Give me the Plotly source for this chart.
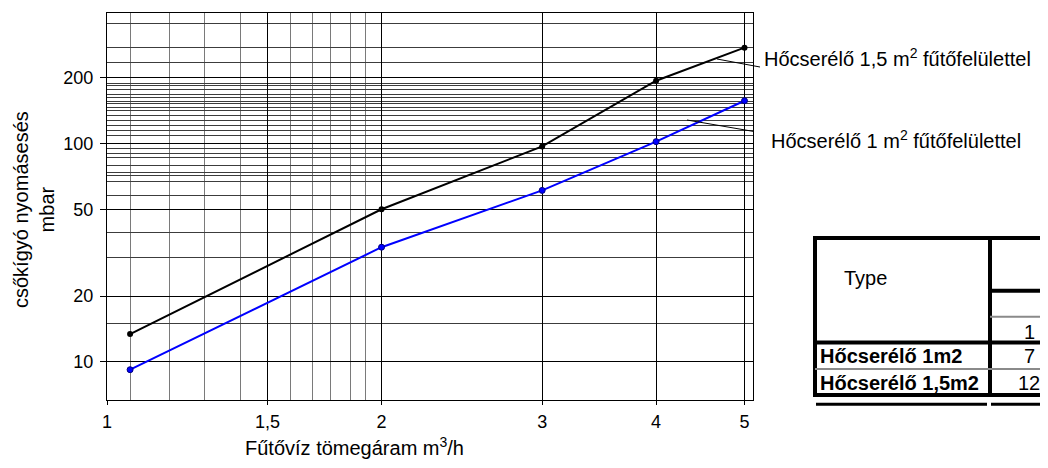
import plotly.graph_objects as go

# ---- data ----
flow_15 = [1.06, 2, 3, 4, 5]
dp_15 = [13.4, 50, 97, 194, 275]
flow_10 = [1.06, 2, 3, 4, 5]
dp_10 = [9.2, 33.5, 61, 102, 157]

x_tick_vals = [1, 1.5, 2, 3, 4, 5]
x_tick_text = ["1", "1,5", "2", "3", "4", "5"]
x_minor_grid = [1.06, 1.17, 1.28, 1.40, 1.59, 1.68, 1.76, 1.85, 1.92]
y_tick_vals = [10, 20, 50, 100, 200]
y_tick_text = ["10", "20", "50", "100", "200"]
y_minor_grid = [15, 30, 39, 58, 67, 71, 74, 79, 86, 90, 95, 109, 115, 121, 128,
                134, 141, 146, 152, 156, 162, 167, 177, 184, 189, 234, 275, 355]

label_15 = "Hőcserélő 1,5 m<sup>2</sup> fűtőfelülettel"
label_10 = "Hőcserélő 1 m<sup>2</sup> fűtőfelülettel"
x_title = "Fűtővíz tömegáram m<sup>3</sup>/h"
y_title = "csőkígyó nyomásesés<br>mbar"

table_header = "Type"
table_col = "1"
table_rows = ["Hőcserélő 1m2", "Hőcserélő 1,5m2"]
table_vals = ["7", "12"]

# ---- layout geometry (page pixels; the page adds an 8 px body margin) ----
OFF = 8
W, H = 1048 - 2 * OFF, 468 - 2 * OFF
L, R, T, B = 107, 753, 13, 400
FONT = "Liberation Sans, Arial, sans-serif"


def px(x):
    return (x - L) / (R - L)


def py(y):
    return (B - y) / (B - T)


fig = go.Figure()
fig.add_trace(go.Scatter(x=flow_15, y=dp_15, mode="lines+markers",
                         line=dict(color="black", width=2),
                         marker=dict(color="black", size=6),
                         name=label_15, showlegend=False))
fig.add_trace(go.Scatter(x=flow_10, y=dp_10, mode="lines+markers",
                         line=dict(color="#0000ff", width=2),
                         marker=dict(color="#0000ff", size=6,
                                     line=dict(color="#000080", width=1)),
                         name=label_10, showlegend=False))

fig.update_layout(
    width=W, height=H,
    margin=dict(l=L - OFF, r=W - (R - OFF), t=T - OFF, b=H - (B - OFF)),
    paper_bgcolor="white", plot_bgcolor="white",
    font=dict(family=FONT, color="black", size=18),
    xaxis=dict(type="log", range=[0, 0.7083],
               tickmode="array", tickvals=x_tick_vals, ticktext=x_tick_text,
               ticks="outside", ticklen=4, tickcolor="black",
               tickfont=dict(size=18), ticklabelstandoff=1,
               showgrid=True, gridcolor="black", gridwidth=1,
               showline=True, mirror=True, linecolor="black", linewidth=1,
               zeroline=False,
               minor=dict(tickmode="array", tickvals=x_minor_grid,
                          showgrid=True, gridcolor="#7a7a7a", gridwidth=1,
                          ticks="")),
    yaxis=dict(type="log", range=[0.825, 2.598],
               tickmode="array", tickvals=y_tick_vals, ticktext=y_tick_text,
               ticks="outside", ticklen=6, tickcolor="black",
               tickfont=dict(size=18), ticklabelstandoff=3,
               showgrid=True, gridcolor="black", gridwidth=1,
               showline=True, mirror=True, linecolor="black", linewidth=1,
               zeroline=False,
               minor=dict(tickmode="array", tickvals=y_minor_grid,
                          showgrid=True, gridcolor="#3c3c3c", gridwidth=1,
                          ticks="")),
)

ann = []
# axis titles
ann.append(dict(text=x_title, x=px(354), y=py(446), xref="paper", yref="paper",
                showarrow=False, xanchor="center", yanchor="middle",
                font=dict(size=20)))
ann.append(dict(text=y_title, x=px(34), y=py(210), xref="paper", yref="paper",
                showarrow=False, xanchor="center", yanchor="middle",
                textangle=-90, font=dict(size=20)))
# series labels
ann.append(dict(text=label_15, x=px(762), y=py(57), xref="paper", yref="paper",
                showarrow=False, xanchor="left", yanchor="middle",
                font=dict(size=20)))
ann.append(dict(text=label_10, x=px(769), y=py(139), xref="paper", yref="paper",
                showarrow=False, xanchor="left", yanchor="middle",
                font=dict(size=20)))

shapes = []
# leader lines
shapes.append(dict(type="line", xref="paper", yref="paper",
                   x0=px(717), y0=py(59), x1=px(760), y1=py(67),
                   line=dict(color="black", width=1)))
shapes.append(dict(type="line", xref="paper", yref="paper",
                   x0=px(687), y0=py(120), x1=px(754), y1=py(131.5),
                   line=dict(color="black", width=1)))


def hline(x0, x1, y, w, c="black"):
    shapes.append(dict(type="line", xref="paper", yref="paper",
                       x0=px(x0), x1=px(x1), y0=py(y), y1=py(y),
                       line=dict(color=c, width=w)))


def vline(x, y0, y1, w, c="black"):
    shapes.append(dict(type="line", xref="paper", yref="paper",
                       x0=px(x), x1=px(x), y0=py(y0), y1=py(y1),
                       line=dict(color=c, width=w)))


# table (cut by the right edge)
hline(813, 1070, 238, 4)
hline(813, 1070, 395, 4)
vline(815, 236, 397, 4)
vline(990, 236, 397, 4)
hline(813, 1070, 342.5, 4)
hline(990, 1070, 290.7, 4)
hline(990, 1070, 316.7, 2, "#8a8a8a")
hline(815, 1070, 369, 2, "#8a8a8a")
hline(816, 987, 404.3, 3)
hline(991, 1070, 404.3, 3)

ann.append(dict(text=table_header, x=px(865), y=py(278), xref="paper", yref="paper",
                showarrow=False, xanchor="center", yanchor="middle",
                font=dict(size=20)))
ann.append(dict(text=table_col, x=px(1029), y=py(331.5), xref="paper", yref="paper",
                showarrow=False, xanchor="center", yanchor="middle",
                font=dict(size=20)))
row_y = [356, 382.5]
for name, val, yy in zip(table_rows, table_vals, row_y):
    ann.append(dict(text="<b>" + name + "</b>", x=px(818), y=py(yy),
                    xref="paper", yref="paper", showarrow=False,
                    xanchor="left", yanchor="middle", font=dict(size=20)))
    ann.append(dict(text=val, x=px(1029), y=py(yy), xref="paper", yref="paper",
                    showarrow=False, xanchor="center", yanchor="middle",
                    font=dict(size=20)))

fig.update_layout(annotations=ann, shapes=shapes)
fig.write_html("out.html")
